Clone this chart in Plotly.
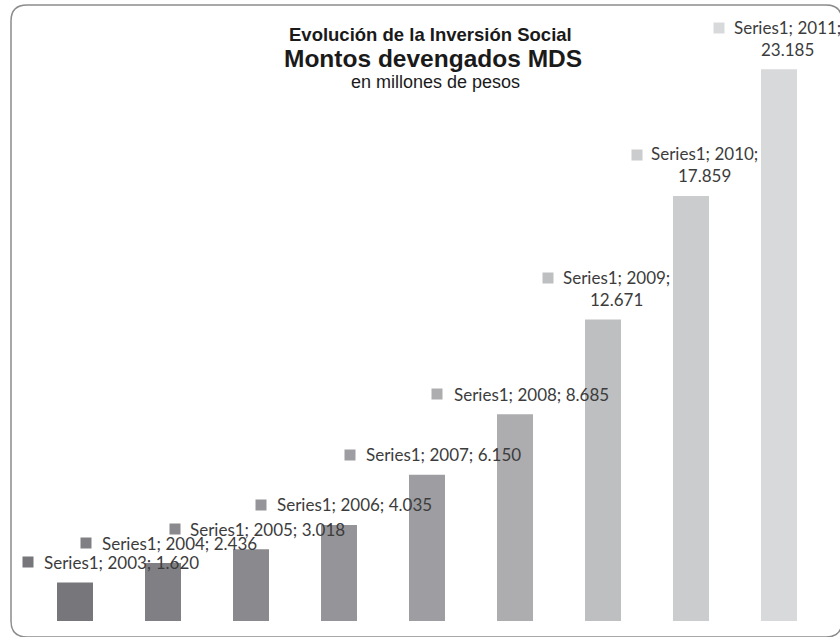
import plotly.graph_objects as go

# ---- data ----
years = ["2003", "2004", "2005", "2006", "2007", "2008", "2009", "2010", "2011"]
values = [1620, 2436, 3018, 4035, 6150, 8685, 12671, 17859, 23185]
series_name = "Series1"
bar_colors = ["#77777b", "#808084", "#8a8a8e", "#959599", "#9e9ea2",
              "#adadb0", "#bebfc1", "#cbcccd", "#d8d9db"]

title_1 = "Evolución de la Inversión Social"
title_2 = "Montos devengados MDS"
title_3 = "en millones de pesos"

# ---- label layout (pixel offsets relative to bar centre / top) ----
two_line = [False, False, False, False, False, False, True, True, True]
text_dx = [-33, -63, -63, -64, -63, -63, 13, 13, 8]
square_dx = [-47.5, -77.5, -76, -78.5, -77.5, -78, -55, -54, -60]
single_dy = 20
double_text_dy = 31
double_square_dy = 41


def fmt(v):
    return f"{v:,}".replace(",", ".")


fig = go.Figure()
fig.add_trace(go.Bar(
    x=list(range(len(years))), y=values,
    marker=dict(color=bar_colors, line=dict(width=0)),
    showlegend=False, hoverinfo="skip",
))

label_font = dict(family="Lato", size=17, color="#3c3c3c")
annotations = []
for i, (yr, v) in enumerate(zip(years, values)):
    if two_line[i]:
        annotations.append(dict(
            x=i, y=v, xref="x", yref="y", showarrow=False,
            text=f"{series_name}; {yr};<br>{fmt(v)}", align="center",
            xanchor="center", yanchor="middle",
            xshift=text_dx[i], yshift=double_text_dy, font=label_font))
        sq_dy = double_square_dy
    else:
        annotations.append(dict(
            x=i, y=v, xref="x", yref="y", showarrow=False,
            text=f"{series_name}; {yr}; {fmt(v)}",
            xanchor="left", yanchor="middle",
            xshift=text_dx[i], yshift=single_dy, font=label_font))
        sq_dy = single_dy
    annotations.append(dict(
        x=i, y=v, xref="x", yref="y", showarrow=False,
        text=" ", width=10, height=10, bgcolor=bar_colors[i], borderpad=0,
        xanchor="center", yanchor="middle",
        xshift=square_dx[i], yshift=sq_dy, font=dict(size=6)))

annotations += [
    dict(x=0.5038, y=0.9849, xref="paper", yref="paper", showarrow=False,
         text=f"<b>{title_1}</b>", xanchor="center", yanchor="middle",
         font=dict(family="Liberation Sans", size=18.5, color="#1a1a1a")),
    dict(x=0.507, y=0.9462, xref="paper", yref="paper", showarrow=False,
         text=f"<b>{title_2}</b>", xanchor="center", yanchor="middle",
         font=dict(family="Liberation Sans", size=24.5, color="#1a1a1a")),
    dict(x=0.511, y=0.9059, xref="paper", yref="paper", showarrow=False,
         text=title_3, xanchor="center", yanchor="middle",
         font=dict(family="Liberation Sans", size=18, color="#1a1a1a")),
]

# rounded border (paper coords)
W, H = 840, 637
ml, mr, mt, mb = 31, 17, 26, 16
pw, ph = W - ml - mr, H - mt - mb
x0, x1 = (11 - ml) / pw, (842 - ml) / pw
y0, y1 = (H - mb - 5) / ph, (H - mb - 637) / ph
rx, ry = 16 / pw, 16 / ph
path = (f"M {x0+rx},{y0} L {x1-rx},{y0} Q {x1},{y0} {x1},{y0-ry} "
        f"L {x1},{y1+ry} Q {x1},{y1} {x1-rx},{y1} "
        f"L {x0+rx},{y1} Q {x0},{y1} {x0},{y1+ry} "
        f"L {x0},{y0-ry} Q {x0},{y0} {x0+rx},{y0} Z")

fig.update_layout(
    width=W, height=H,
    margin=dict(l=ml, r=mr, t=mt, b=mb, pad=0),
    paper_bgcolor="white", plot_bgcolor="white",
    bargap=1 - 36 / 88,
    xaxis=dict(visible=False, range=[-0.5, len(years) - 0.5]),
    yaxis=dict(visible=False, range=[0, 25000]),
    annotations=annotations,
    shapes=[dict(type="path", path=path, xref="paper", yref="paper",
                 line=dict(color="#8c8c8c", width=1.5), layer="above")],
)

fig.write_html("out.html",
               config={"displayModeBar": False},
               post_script="document.body.style.margin='0';document.body.style.overflow='hidden';")
